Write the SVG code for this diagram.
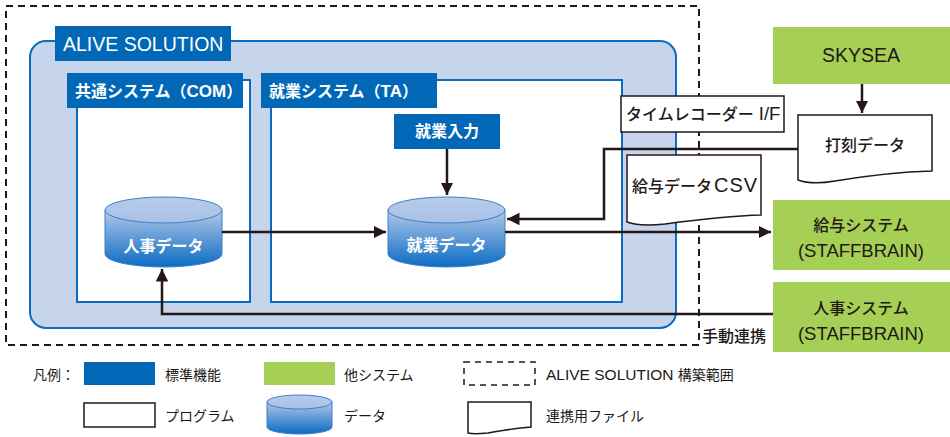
<svg xmlns="http://www.w3.org/2000/svg" width="950" height="437" viewBox="0 0 950 437">
<defs>
<style>
.t{font-family:"Noto Sans CJK JP","Noto Sans",sans-serif;fill:#231815;font-size:16px;font-weight:500}
.w{font-family:"Noto Sans CJK JP","Noto Sans",sans-serif;fill:#fff;font-size:16px;font-weight:700}
.lg{font-family:"Noto Sans CJK JP","Noto Sans",sans-serif;fill:#231815;font-size:14px;font-weight:400}
.lat{font-family:"Liberation Sans",Arial,sans-serif}
.std{fill:#0068b7}
.oth{fill:#a5cf55}
.prog{fill:#fff;stroke:#0a6cc0;stroke-width:2}
.doc{fill:#fff;stroke:#231815;stroke-width:1.5}
.dash{fill:none;stroke:#231815;stroke-width:2;stroke-dasharray:7,5}
.conn{fill:none;stroke:#231815;stroke-width:2.5}
.cylb{fill:url(#cg);stroke:#3f7fc8;stroke-width:1}
.cylt{fill:url(#ct);stroke:#3f7fc8;stroke-width:1}
</style>
<linearGradient id="cg" x1="0" y1="0" x2="0" y2="1">
<stop offset="0" stop-color="#b3c8ea"/>
<stop offset="1" stop-color="#0a6cc2"/>
</linearGradient>
<linearGradient id="ct" x1="0" y1="0" x2="0" y2="1">
<stop offset="0" stop-color="#b8cbea"/>
<stop offset="1" stop-color="#a9c1e6"/>
</linearGradient>
<marker id="ah" viewBox="0 0 10 10" refX="10" refY="5" markerWidth="5" markerHeight="5" markerUnits="strokeWidth" orient="auto">
<path d="M0,0 L10,5 L0,10 Z" fill="#231815"/>
</marker>
</defs>

<g id="scope">
<rect x="6" y="6" width="693" height="339" class="dash"/>
</g>

<g id="alive">
<rect x="30" y="41" width="646" height="287" rx="16" fill="#c6d5ec" stroke="#0a6cc0" stroke-width="2"/>
<rect x="55" y="26" width="176" height="35" class="std"/>
<text x="63" y="50.5" class="lat" fill="#fff" font-size="19.5">ALIVE SOLUTION</text>
</g>

<g id="com">
<rect x="77" y="80" width="173" height="222" class="prog"/>
<rect x="67" y="73" width="176" height="35" class="std"/>
<text x="75" y="97" class="w">共通システム（<tspan class="lat" font-size="17">COM</tspan>）</text>
</g>

<g id="ta">
<rect x="271" y="80" width="351" height="222" class="prog"/>
<rect x="261" y="73" width="176" height="35" class="std"/>
<text x="269" y="97" class="w">就業システム（<tspan class="lat" font-size="17">TA</tspan>）</text>
</g>

<g id="input">
<rect x="394" y="114" width="106" height="35" class="std"/>
<text x="447" y="137" class="w" text-anchor="middle">就業入力</text>
</g>

<g id="jinji-data">
<path d="M105,210 V254 A58.5,13 0 0 0 222,254 V210 Z" class="cylb"/>
<ellipse cx="163.5" cy="210" rx="58.5" ry="13" class="cylt"/>
<text x="163.5" y="252" class="w" text-anchor="middle">人事データ</text>
</g>

<g id="shugyo-data">
<path d="M388,210 V254 A58.5,13 0 0 0 505,254 V210 Z" class="cylb"/>
<ellipse cx="446.5" cy="210" rx="58.5" ry="13" class="cylt"/>
<text x="446.5" y="251" class="w" text-anchor="middle">就業データ</text>
</g>

<g id="skysea">
<rect x="773" y="27" width="177" height="57" class="oth"/>
<text x="861" y="62" class="lat" fill="#231815" font-size="19.5" text-anchor="middle">SKYSEA</text>
</g>

<g id="kyuyo-sys">
<rect x="773" y="200" width="177" height="70" class="oth"/>
<text x="861" y="231" class="t" text-anchor="middle">給与システム</text>
<text x="861" y="257" class="lat" fill="#231815" font-size="18.5" text-anchor="middle">(STAFFBRAIN)</text>
</g>

<g id="jinji-sys">
<rect x="773" y="282" width="177" height="70" class="oth"/>
<text x="861" y="314" class="t" text-anchor="middle">人事システム</text>
<text x="861" y="340" class="lat" fill="#231815" font-size="18.5" text-anchor="middle">(STAFFBRAIN)</text>
</g>

<g id="connectors">
<path d="M222,232 H386" class="conn" marker-end="url(#ah)"/>
<path d="M447,149 V195" class="conn" marker-end="url(#ah)"/>
<path d="M798,149 H604 V219 H507" class="conn" marker-end="url(#ah)"/>
<path d="M505,232 H771" class="conn" marker-end="url(#ah)"/>
<path d="M773,314 H162 V269" class="conn" marker-end="url(#ah)"/>
<path d="M862,84 V113" class="conn" marker-end="url(#ah)"/>
</g>

<g id="timerecorder">
<rect x="621" y="96" width="163" height="36" fill="#fff" stroke="#231815" stroke-width="1.5"/>
<text x="626" y="120" class="t">タイムレコーダー<tspan class="lat" font-size="18.5"> I/F</tspan></text>
</g>

<g id="dakoku">
<path d="M798,115 H932 V171 C895,172 865,176 835,181 C818,184 806,183 798,180 Z" class="doc"/>
<text x="865" y="151" class="t" text-anchor="middle">打刻データ</text>
</g>

<g id="csv">
<path d="M627,155 H761 V215 C725,216 695,220 665,224 C645,226 635,225 627,222 Z" class="doc"/>
<text x="632" y="192" class="t">給与データ<tspan class="lat" font-size="20" letter-spacing="1" dx="2">CSV</tspan></text>
</g>

<g id="manual">
<text x="702" y="342" class="t">手動連携</text>
</g>

<g id="legend">
<text x="33" y="380" class="lg">凡例：</text>
<rect x="84" y="362" width="71" height="23" class="std"/>
<text x="165" y="380" class="lg">標準機能</text>
<rect x="264" y="362" width="71" height="23" class="oth"/>
<text x="344" y="380" class="lg">他システム</text>
<rect x="464" y="362" width="71" height="23" fill="none" stroke="#231815" stroke-width="1.5" stroke-dasharray="6,5"/>
<text x="546" y="380" class="lg"><tspan class="lat" font-size="15.5">ALIVE SOLUTION </tspan>構築範囲</text>
<rect x="84" y="403" width="71" height="24" fill="#fff" stroke="#231815" stroke-width="1.5"/>
<text x="165" y="421" class="lg">プログラム</text>
<path d="M267,402 V427 A32.5,7 0 0 0 332,427 V402 Z" class="cylb"/>
<ellipse cx="299.5" cy="402" rx="32.5" ry="7" class="cylt"/>
<text x="344" y="421" class="lg">データ</text>
<path d="M468,402 H531 V427 C515,428 500,431 488,433 C478,434 472,434 468,433 Z" class="doc"/>
<text x="546" y="421" class="lg">連携用ファイル</text>
</g>
</svg>
